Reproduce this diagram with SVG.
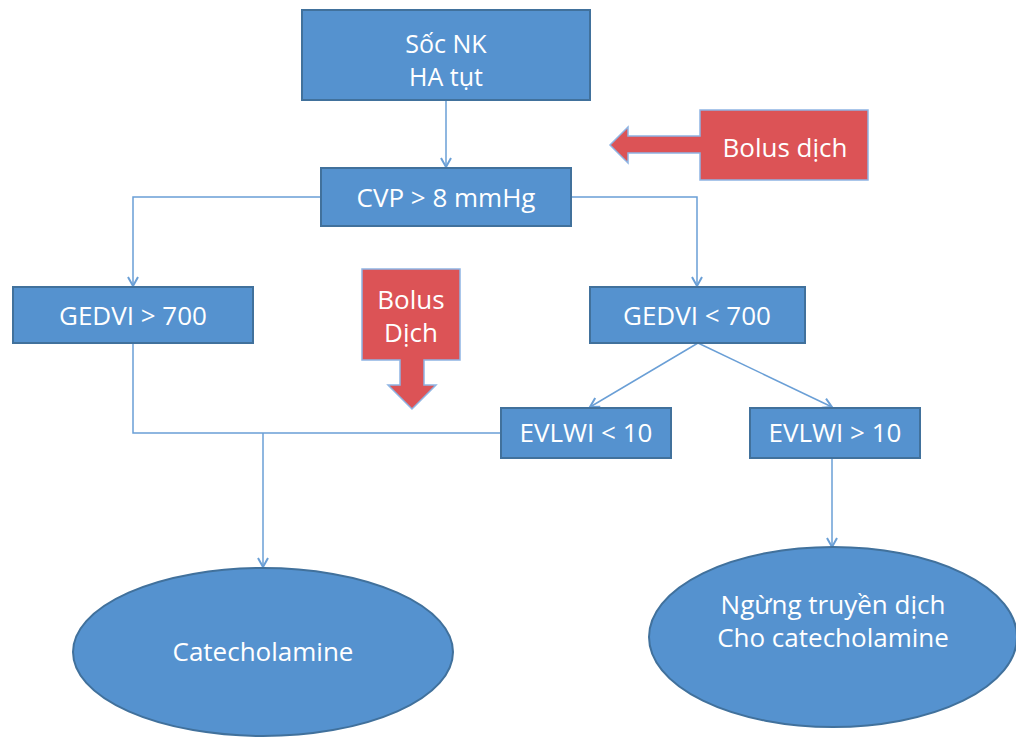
<svg xmlns="http://www.w3.org/2000/svg" width="1016" height="756" viewBox="0 0 1016 756">
<style>
.box{fill:#5592cf;stroke:#41719c;stroke-width:2}
.red{fill:#dc5356;stroke:#8eb4e3;stroke-width:1.5}
.t{font-family:"Open Sans",sans-serif;font-size:26px;fill:#ffffff;text-anchor:middle}
.c{fill:none;stroke:#6a9fd6;stroke-width:1.5}
</style>
<defs>
<marker id="ah" markerWidth="14" markerHeight="12" refX="10" refY="6" orient="auto" markerUnits="userSpaceOnUse">
<path d="M1,1 L10,6 L1,11" fill="none" stroke="#6a9fd6" stroke-width="2"/>
</marker>
</defs>
<g id="connectors">
<line class="c" x1="446" y1="100" x2="446" y2="167" marker-end="url(#ah)"/>
<polyline class="c" points="321,197 133,197 133,286" marker-end="url(#ah)"/>
<polyline class="c" points="571,197 697,197 697,286" marker-end="url(#ah)"/>
<line class="c" x1="698" y1="343" x2="590" y2="407" marker-end="url(#ah)"/>
<line class="c" x1="698" y1="343" x2="832" y2="407" marker-end="url(#ah)"/>
<polyline class="c" points="133,343 133,433 501,433"/>
<line class="c" x1="263" y1="433" x2="263" y2="567" marker-end="url(#ah)"/>
<line class="c" x1="832" y1="458" x2="832" y2="547" marker-end="url(#ah)"/>
</g>
<g id="soc">
<rect class="box" x="302" y="10" width="288" height="90"/>
<text class="t" x="446" y="53" style="font-size:25px">Sốc NK</text>
<text class="t" x="446" y="86" style="font-size:25px">HA tụt</text>
</g>
<g id="bolus1">
<path class="red" d="M700,110 H868 V180 H700 V153 H628 V163 L610,145 L628,127 V136 H700 Z"/>
<text class="t" x="785" y="157">Bolus dịch</text>
</g>
<g id="cvp">
<rect class="box" x="321" y="168" width="250" height="58"/>
<text class="t" x="446" y="207">CVP &gt; 8 mmHg</text>
</g>
<g id="gedvi1">
<rect class="box" x="13" y="287" width="240" height="56"/>
<text class="t" x="133" y="325">GEDVI &gt; 700</text>
</g>
<g id="gedvi2">
<rect class="box" x="590" y="287" width="215" height="56"/>
<text class="t" x="697" y="325">GEDVI &lt; 700</text>
</g>
<g id="bolus2">
<path class="red" d="M362,269 H460 V360 H424 V385 H436 L412,409 L388,385 H400 V360 H362 Z"/>
<text class="t" x="411" y="309">Bolus</text>
<text class="t" x="411" y="342">Dịch</text>
</g>
<g id="evlwi1">
<rect class="box" x="501" y="408" width="170" height="50"/>
<text class="t" x="586" y="442">EVLWI &lt; 10</text>
</g>
<g id="evlwi2">
<rect class="box" x="750" y="408" width="170" height="50"/>
<text class="t" x="835" y="442">EVLWI &gt; 10</text>
</g>
<g id="cat">
<ellipse class="box" cx="263" cy="652" rx="190" ry="84"/>
<text class="t" x="263" y="661">Catecholamine</text>
</g>
<g id="ngung">
<ellipse class="box" cx="833" cy="637" rx="184" ry="90"/>
<text class="t" x="833" y="614">Ngừng truyền dịch</text>
<text class="t" x="833" y="647">Cho catecholamine</text>
</g>
</svg>
